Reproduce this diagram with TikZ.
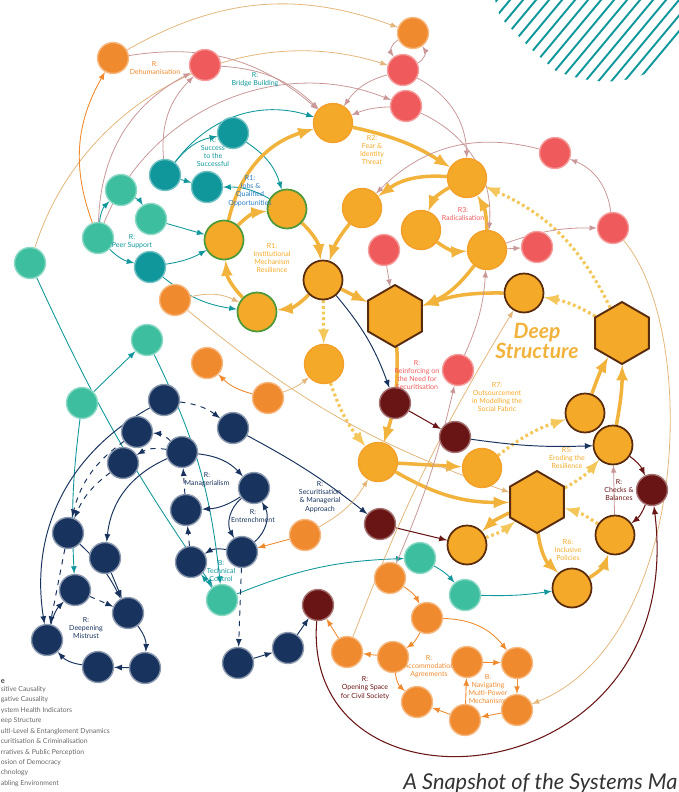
\documentclass[tikz,border=0pt]{standalone}
\usepackage{fontspec}
\setmainfont{Lato}
\usetikzlibrary{shapes.geometric,backgrounds}

\definecolor{cOra}{HTML}{F08A2E}
\definecolor{cGold}{HTML}{F5A928}
\definecolor{cGoldLn}{HTML}{F2B33D}
\definecolor{cGoldDot}{HTML}{F3C75A}
\definecolor{cCoral}{HTML}{EF5B5C}
\definecolor{cMaroon}{HTML}{6A1515}
\definecolor{cNavy}{HTML}{18335E}
\definecolor{cPetrol}{HTML}{10979B}
\definecolor{cMint}{HTML}{3DBE9E}
\definecolor{cMauve}{HTML}{C99797}
\definecolor{cTanLn}{HTML}{E3B67A}
\definecolor{cRing}{HTML}{5A2C0E}
\definecolor{cLeaf}{HTML}{4E9A3A}
\definecolor{cJobs}{HTML}{2A7FC1}

\tikzset{
  bub/.style={circle, inner sep=0pt, minimum size=0.62cm, line width=0.8pt},
  bubO/.style={bub, fill=cOra, draw=cOra!60!white},
  bubR/.style={bub, fill=cCoral, draw=cCoral!60!white},
  bubM/.style={bub, fill=cMaroon, draw=cMaroon!60!white},
  bubN/.style={bub, fill=cNavy, draw=cNavy!50!white},
  bubT/.style={bub, fill=cPetrol, draw=cPetrol!60!white},
  bubG/.style={bub, fill=cMint, draw=cMint!60!white},
  bubY/.style={bub, minimum size=0.78cm, fill=cGold, draw=cGold!70!cOra},
  bubYk/.style={bubY, draw=cRing, line width=1pt},
  bubYg/.style={bubY, draw=cLeaf, line width=1pt},
  hexY/.style={regular polygon, regular polygon sides=6, shape border rotate=30,
    minimum size=1.24cm, inner sep=0pt, fill=cGold, draw=cRing, line width=1.1pt},
  lnk/.style={->, line width=0.45pt, draw=cMauve},
  tn/.style={->, line width=0.45pt, draw=cTanLn},
  og/.style={->, line width=0.5pt, draw=cOra},
  tl/.style={->, line width=0.5pt, draw=cPetrol},
  nv/.style={->, line width=0.55pt, draw=cNavy},
  nvd/.style={nv, dashed},
  mr/.style={->, line width=0.6pt, draw=cMaroon},
  thk/.style={->, line width=2pt, draw=cGoldLn},
  dtd/.style={->, line width=1.8pt, draw=cGoldDot, dash pattern=on 1.6pt off 1.6pt},
  lbl/.style={align=center, font=\fontsize{4}{4.6}\selectfont},
  lgd/.style={anchor=base west, inner sep=0pt, text=black!60, font=\fontsize{3.9}{4.4}\selectfont}
}

\begin{document}
\begin{tikzpicture}[x=0.02cm, y=0.02cm, >=latex]
\useasboundingbox (0,0) rectangle (679,-792);

% hatching top right
\begin{scope}
  \clip (495,0) -- (679,0) -- (679,-42) -- (655,-70) -- (632,-79) -- (605,-82)
    -- (582,-79) -- (557,-72) -- (530,-48) -- (500,-17) -- cycle;
  \foreach \i in {0,...,22}
    \draw[cPetrol, line width=1.1pt] (397+13*\i,-120) -- ++(110,132);
\end{scope}

% orange
\node[bubO] (oA) at (113,-58) {};
\node[bubO] (oB) at (413,-33) {};
\node[bubO] (oC) at (175,-300) {};
\node[bubO] (oD) at (207,-363) {};
\node[bubO] (oE) at (268,-398) {};
\node[bubO] (oF) at (305,-535) {};
\node[bubO] (oG) at (390,-578) {};
\node[bubO] (oH) at (427,-618) {};
\node[bubO] (oI) at (347,-652) {};
\node[bubO] (oJ) at (393,-657) {};
\node[bubO] (oK) at (467,-662) {};
\node[bubO] (oL) at (517,-663) {};
\node[bubO] (oM) at (417,-702) {};
\node[bubO] (oN) at (465,-720) {};
\node[bubO] (oO) at (517,-710) {};

% deep structure
\node[bubY] (yA) at (333,-123) {};
\node[bubYg] (yB) at (224,-240) {};
\node[bubYg] (yC) at (287,-209) {};
\node[bubYg] (yD) at (257,-312) {};
\node[bubYk] (yE) at (323,-280) {};
\node[bubY] (yF) at (467,-178) {};
\node[bubY] (yG) at (362,-208) {};
\node[bubY] (yH) at (421,-230) {};
\node[bubY] (yI) at (487,-250) {};
\node[bubYk] (yJ) at (524,-293) {};
\node[bubY] (yK) at (324,-364) {};
\node[bubY] (yL) at (378,-462) {};
\node[bubY] (yM) at (482,-468) {};
\node[bubYk] (yN) at (585,-413) {};
\node[bubYk] (yO) at (613,-445) {};
\node[bubYk] (yP) at (467,-545) {};
\node[bubYk] (yQ) at (615,-535) {};
\node[bubYk] (yR) at (572,-588) {};
\node[hexY] (hA) at (395,-316) {};
\node[hexY] (hB) at (622,-333) {};
\node[hexY] (hC) at (537,-502) {};

% fear
\node[bubR] (rA) at (205,-65) {};
\node[bubR] (rB) at (403,-70) {};
\node[bubR] (rC) at (406,-106) {};
\node[bubR] (rD) at (555,-153) {};
\node[bubR] (rE) at (613,-228) {};
\node[bubR] (rF) at (537,-247) {};
\node[bubR] (rG) at (384,-250) {};
\node[bubR] (rH) at (458,-370) {};

% checks
\node[bubM] (mA) at (395,-403) {};
\node[bubM] (mB) at (455,-437) {};
\node[bubM] (mC) at (380,-524) {};
\node[bubM] (mD) at (652,-490) {};
\node[bubM] (mE) at (318,-605) {};

% teal
\node[bubT] (tA) at (233,-133) {};
\node[bubT] (tB) at (165,-175) {};
\node[bubT] (tC) at (207,-187) {};
\node[bubT] (tD) at (150,-267) {};
\node[bubG] (gA) at (121,-190) {};
\node[bubG] (gB) at (151,-219) {};
\node[bubG] (gC) at (98,-238) {};
\node[bubG] (gD) at (30,-263) {};
\node[bubG] (gE) at (82,-403) {};
\node[bubG] (gF) at (147,-340) {};
\node[bubG] (gG) at (222,-600) {};
\node[bubG] (gH) at (420,-558) {};
\node[bubG] (gI) at (465,-595) {};

% navy
\node[bubN] (nA) at (164,-400) {};
\node[bubN] (nB) at (137,-432) {};
\node[bubN] (nC) at (123,-463) {};
\node[bubN] (nD) at (182,-452) {};
\node[bubN] (nE) at (233,-428) {};
\node[bubN] (nF) at (254,-488) {};
\node[bubN] (nG) at (186,-510) {};
\node[bubN] (nH) at (68,-533) {};
\node[bubN] (nI) at (105,-558) {};
\node[bubN] (nJ) at (242,-552) {};
\node[bubN] (nK) at (191,-562) {};
\node[bubN] (nL) at (75,-590) {};
\node[bubN] (nM) at (128,-613) {};
\node[bubN] (nN) at (47,-640) {};
\node[bubN] (nO) at (98,-667) {};
\node[bubN] (nP) at (145,-668) {};
\node[bubN] (nQ) at (238,-663) {};
\node[bubN] (nR) at (288,-648) {};

\begin{pgfonlayer}{background}
% big outer arcs
\draw[tn] (gD) to[bend left=45] (rB);
\draw[tn] (oA) to[bend left=25] (oB);
\draw[lnk] (gC) to[bend left=45] (rC);
\draw[og] (gC) to[bend left=25] (oA);
\draw[lnk] (oA) to[bend left=25] (yA);
\draw[tn] (rE) .. controls (700,-330) and (690,-640) .. (oO);
\draw[mr] (mE) .. controls (300,-830) and (690,-800) .. (mD);

% teal cluster
\draw[tl] (gA) to[bend left=15] (gB);
\draw[tl] (gC) to[bend left=20] (gA);
\draw[tl] (gC) to[bend right=15] (tD);
\draw[tl] (gB) -- (yB);
\draw[tl] (tD) to[bend right=10] (yB);
\draw[tl] (tD) to[bend right=15] (yD);
\draw[tl] (tB) -- (tC);
\draw[tl] (tB) to[bend left=20] (tA);
\draw[tl] (tA) to[bend left=20] (yC);
\draw[tl] (yC) to[bend right=15] (tC);
\draw[tl] (tB) to[bend left=35] (yA);
\draw[lnk] (tB) to[bend left=25] (rA);
\draw[lnk] (gC) to[bend left=30] (rA);
\draw[tl] (gE) -- (gF);
\draw[tl] (gD) to[bend right=5] (gG);
\draw[tl] (gF) to[bend left=10] (gG);
\draw[tl] (gE) to[bend right=5] (nL);
\draw[tl] (gG) to[bend left=10] (gH);
\draw[tl] (gG) -- (nK);
\draw[tl] (gH) to[bend left=10] (gI);
\draw[tl] (gI) to[bend right=5] (yR);

% yellow loops
\draw[thk] (yB) to[bend left=20] (yC);
\draw[thk] (yC) to[bend left=20] (yE);
\draw[thk] (yE) to[bend left=20] (yD);
\draw[thk] (yD) to[bend left=20] (yB);
\draw[thk] (yB) to[bend left=30] (yA);
\draw[thk] (yA) to[bend left=10] (yF);
\draw[thk] (yF) to[bend right=20] (yG);
\draw[thk] (yF) to[bend right=20] (yH);
\draw[thk] (yH) to[bend right=20] (yI);
\draw[thk] (yI) to[bend right=15] (yF);
\draw[thk] (yG) to[bend right=10] (yE);
\draw[thk] (yI) to[bend left=15] (hA);
\draw[thk] (yE) -- (hA);
\draw[thk] (yJ) to[bend right=10] (hA);
\draw[thk] (hA) to[bend left=10] (yL);
\draw[dtd] (yE) -- (yK);
\draw[dtd] (yK) to[bend right=10] (yL);
\draw[thk] (yL) -- (yM);
\draw[thk] (yL) to[bend right=15] (hC);
\draw[dtd] (yM) to[bend left=10] (yN);
\draw[dtd] (hC) to[bend right=10] (yO);
\draw[thk] (yN) to[bend left=5] (hB);
\draw[thk] (yO) to[bend right=5] (hB);
\draw[thk] (hC) to[bend right=20] (yR);
\draw[thk] (yR) to[bend right=20] (yQ);
\draw[dtd] (yQ) to[bend right=10] (hC);
\draw[thk] (hC) to[bend right=10] (yP);
\draw[dtd] (yP) to[bend right=10] (hC);
\draw[dtd] (hB) to[bend right=20] (yF);
\draw[dtd] (hB) to[bend right=10] (yJ);
\draw[mr] (yO) to[bend left=15] (mD);
\draw[mr] (mD) to[bend left=15] (yQ);
\draw[lnk] (yQ) -- (yO);

% fear arcs
\draw[lnk] (oB) to[bend right=50] (rB);
\draw[lnk] (rB) to[bend right=50] (oB);
\draw[lnk] (rA) to[bend left=20] (yA);
\draw[lnk] (rB) to[bend right=20] (yA);
\draw[lnk] (rC) to[bend right=10] (yA);
\draw[lnk] (rB) to[bend left=30] (yF);
\draw[lnk] (rC) to[bend left=35] (yI);
\draw[lnk] (rD) to[bend right=30] (yG);
\draw[lnk] (yI) -- (rF);
\draw[lnk] (yI) to[bend left=10] (rE);
\draw[lnk] (rE) to[bend right=30] (rD);
\draw[lnk] (rG) -- (hA);
\draw[lnk] (rH) to[bend right=10] (yI);
\draw[lnk] (oG) to[bend right=5] (rH);

% navy cluster
\draw[nvd] (nA) to[bend left=15] (nE);
\draw[nv] (nD) to[bend left=20] (nF);
\draw[nv] (nF) to[bend left=15] (nG);
\draw[nvd] (nG) -- (nD);
\draw[nv] (nF) to[bend right=40] (nJ);
\draw[nv] (nJ) to[bend right=40] (nF);
\draw[nv] (nJ) to[bend right=20] (nK);
\draw[nvd] (nK) -- (nG);
\draw[nvd] (nD) to[bend right=20] (nB);
\draw[nvd] (nD) to[bend right=20] (nC);
\draw[nv] (nD) to[bend right=30] (nI);
\draw[nvd] (nB) to[bend right=20] (nH);
\draw[nvd] (nC) to[bend right=15] (nH);
\draw[nv] (nA) to[bend right=35] (nN);
\draw[nvd] (nH) -- (nN);
\draw[nv] (nH) to[bend left=10] (nM);
\draw[nv] (nI) -- (nM);
\draw[nvd] (nL) -- (nM);
\draw[nv] (nN) to[bend left=15] (nL);
\draw[nv] (nM) to[bend left=20] (nP);
\draw[nv] (nP) -- (nO);
\draw[nv] (nO) to[bend left=20] (nN);
\draw[nvd] (nJ) -- (nQ);
\draw[nv] (nQ) -- (nR);
\draw[nv] (nR) -- (mE);
\draw[nv] (nE) to[bend left=5] (mC);
\draw[nv] (yE) to[bend left=10] (mA);
\draw[mr] (mA) -- (mB);
\draw[nv] (mB) to[bend right=5] (yO);
\draw[mr] (mC) -- (yP);

% orange cluster
\draw[og] (oE) to[bend left=15] (oD);
\draw[tn] (oC) to[bend left=20] (yD);
\draw[tn] (oE) to[bend right=10] (yK);
\draw[og] (oF) -- (nJ);
\draw[tn] (oF) to[bend right=15] (yL);
\draw[tn] (oC) to[bend right=10] (hC);
\draw[tn] (oI) to[bend left=5] (yJ);
\draw[og] (oG) to[bend left=15] (oH);
\draw[og] (oH) to[bend left=15] (oJ);
\draw[og] (oJ) -- (oI);
\draw[og] (oI) -- (mE);
\draw[og] (oJ) to[bend right=20] (oM);
\draw[og] (oN) -- (oM);
\draw[og] (oK) -- (oL);
\draw[og] (oL) -- (oO);
\draw[og] (oO) -- (oN);
\draw[og] (oN) -- (oK);
\draw[og] (oH) to[bend left=25] (oL);
\end{pgfonlayer}

% loop names
\node[lbl, text=cOra] (lDeh) at (155,-68) {R:\\Dehumanisation};
\node[lbl, text=cPetrol] (lBri) at (255,-80) {R:\\Bridge Building};
\node[lbl, text=cPetrol] (lSuc) at (213,-152) {R:\\Success\\to the\\Successful};
\node[lbl, text=cJobs] (lJob) at (250,-191) {R1:\\Jobs \&\\Qualified\\Opportunities};
\node[lbl, text=cPetrol] (lPee) at (132,-242) {R:\\Peer Support};
\node[lbl, text=cGold] (lRes) at (272,-258) {R1:\\Institutional\\Mechanism\\Resilience};
\node[lbl, text=cGold] (lFea) at (372,-150) {R2:\\Fear \&\\Identity\\Threat};
\node[lbl, text=cCoral] (lRad) at (463,-214) {R3:\\Radicalisation};
\node[lbl, text=cCoral] (lNee) at (417,-375) {R:\\Reinforcing on\\the Need for\\Securitisation};
\node[lbl, text=cGold] (lFab) at (497,-397) {R7:\\Outsourcement\\in Modelling the\\Social Fabric};
\node[lbl, text=cGold] (lEro) at (567,-458) {R5:\\Eroding the\\Resilience};
\node[lbl, text=cMaroon] (lChk) at (619,-490) {R:\\Checks \&\\Balances};
\node[lbl, text=cGold] (lInc) at (568,-550) {R6:\\Inclusive\\Policies};
\node[lbl, text=cNavy] (lSec) at (320,-497) {R:\\Securitisation\\\& Managerial\\Approach};
\node[lbl, text=cNavy] (lMan) at (207,-480) {R:\\Managerialism};
\node[lbl, text=cNavy] (lEnt) at (253,-516) {R:\\Entrenchment};
\node[lbl, text=cPetrol] (lTec) at (221,-571) {B:\\Technical\\Control};
\node[lbl, text=cNavy] (lMis) at (86,-628) {R:\\Deepening\\Mistrust};
\node[lbl, text=cMaroon] (lOpe) at (365,-688) {R:\\Opening Space\\for Civil Society};
\node[lbl, text=cOra] (lAcc) at (429,-667) {R:\\Accommodation\\Agreements};
\node[lbl, text=cOra] (lNav) at (488,-689) {B:\\Navigating\\Multi-Power\\Mechanisms};

\node[align=center, text=cGoldLn, font=\fontsize{12}{10.5}\selectfont\bfseries\itshape] (deep) at (537,-341) {Deep\\Structure};

% legend, as much as shows
\node[anchor=base west, inner sep=0pt, font=\fontsize{4.2}{4.2}\selectfont\bfseries, text=black!75] (lgT) at (0.5,-683) {e};
\node[lgd] (lg1) at (0.5,-691) {sitive Causality};
\node[lgd] (lg2) at (0.5,-701) {gative Causality};
\node[lgd] (lg3) at (0.5,-712) {ystem Health Indicators};
\node[lgd] (lg4) at (0.5,-722) {eep Structure};
\node[lgd] (lg5) at (0.5,-733) {ulti-Level \& Entanglement Dynamics};
\node[lgd] (lg6) at (0.5,-743) {curitisation \& Criminalisation};
\node[lgd] (lg7) at (0.5,-754) {rratives \& Public Perception};
\node[lgd] (lg8) at (0.5,-764) {osion of Democracy};
\node[lgd] (lg9) at (0.5,-774) {chnology};
\node[lgd] (lg10) at (0.5,-785) {abling Environment};

% caption
\node[anchor=base west, inner sep=0pt, text=black!80, font=\fontsize{12.4}{12.4}\selectfont\itshape] (cap) at (403,-789) {A Snapshot of the Systems Ma};
\end{tikzpicture}
\end{document}
